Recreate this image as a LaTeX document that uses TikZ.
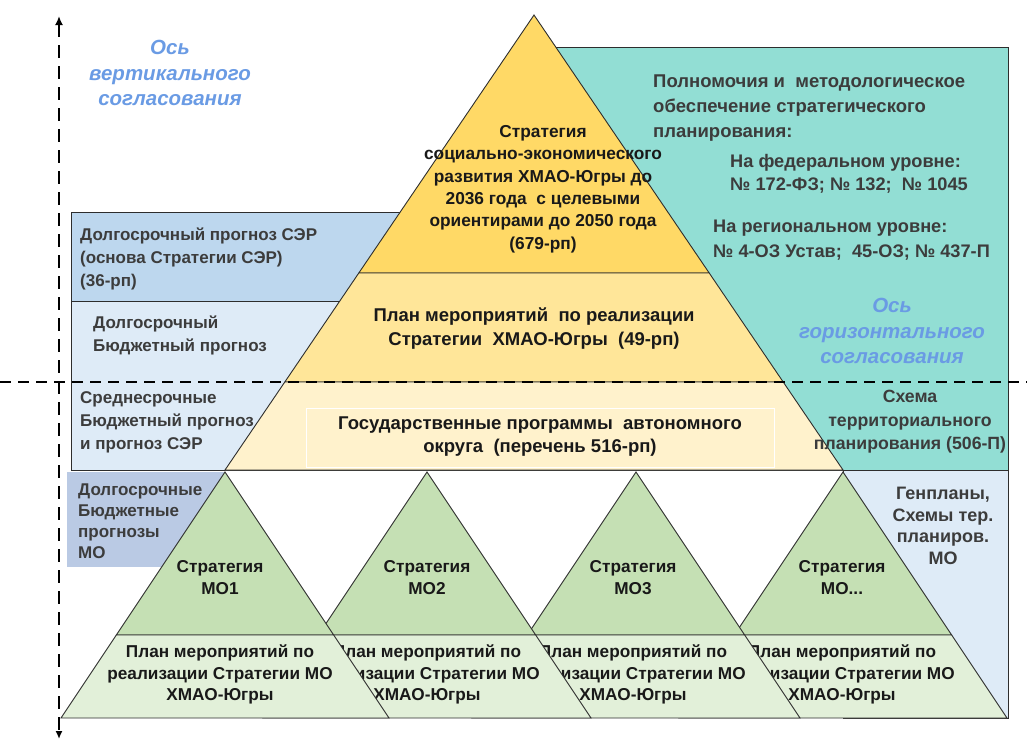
\documentclass[tikz,border=0pt]{standalone}
\usepackage{fontspec}
\setmainfont{Liberation Sans}
\usetikzlibrary{arrows.meta}
\definecolor{tgold}{HTML}{FFD966}
\definecolor{tmid}{HTML}{FFE699}
\definecolor{tpale}{HTML}{FFF2CC}
\definecolor{tealbox}{RGB}{146,222,212}
\definecolor{blueA}{HTML}{BDD7EE}
\definecolor{blueB}{HTML}{DEEBF7}
\definecolor{blueC}{RGB}{186,202,228}
\definecolor{gdark}{HTML}{C5E0B4}
\definecolor{glight}{HTML}{E2F0D9}
\definecolor{axisblue}{RGB}{106,155,228}
\definecolor{edgecol}{RGB}{45,45,45}
\definecolor{darktxt}{RGB}{25,25,25}
\definecolor{graytxt}{RGB}{60,60,60}
\begin{document}
\begin{tikzpicture}[x=1pt,y=-1pt,
  outl/.style={draw=edgecol,line width=0.9pt,line join=miter},
  boxtxt/.style={font=\fontsize{17}{23}\selectfont\bfseries,inner sep=0pt,text=graytxt,align=left,anchor=west},
  ctrtxt/.style={font=\fontsize{17}{23}\selectfont\bfseries,inner sep=0pt,text=graytxt,align=center},
  pyrtxt/.style={font=\fontsize{17.3}{22.4}\selectfont\bfseries,inner sep=0pt,text=darktxt,align=center},
  bigtxt/.style={font=\fontsize{18.5}{23.5}\selectfont\bfseries,inner sep=0pt,text=darktxt,align=center},
  axistxt/.style={font=\fontsize{20.5}{25.5}\selectfont\bfseries\itshape,inner sep=0pt,text=axisblue,align=center},
  gtxt/.style={font=\fontsize{17.2}{21.5}\selectfont\bfseries,inner sep=0pt,text=darktxt,align=center},
  axisline/.style={line width=2.6pt,dash pattern=on 13pt off 8pt},
  hline/.style={line width=2.4pt,dash pattern=on 11pt off 7pt}
]
\useasboundingbox (0,0) rectangle (1027,740);

% left boxes
\path[outl,fill=blueA] (71,212) rectangle (534,301);
\path[outl,fill=blueB] (71,301) rectangle (534,470);
\node[boxtxt] (lb1) at (80,258.5) {Долгосрочный прогноз СЭР\\(основа Стратегии СЭР)\\(36-рп)};
\node[boxtxt] (lb2) at (93,335) {Долгосрочный\\Бюджетный прогноз};
\node[boxtxt] (lb3) at (80,422) {Среднесрочные\\Бюджетный прогноз\\и прогноз СЭР};

% right boxes
\path[outl,fill=tealbox] (534,47) rectangle (1008,470);
\path[outl,fill=blueB] (843,470) rectangle (1008,718);
\path[fill=blueC] (67,472) rectangle (225,567);
\node[boxtxt,font=\fontsize{17}{21}\selectfont\bfseries] (lb4) at (78,521) {Долгосрочные\\Бюджетные\\прогнозы\\МО};

% main pyramid
\path[outl,fill=tgold] (534,15) -- (709.2,273) -- (358.8,273) -- cycle;
\path[outl,fill=tmid] (358.8,273) -- (709.2,273) -- (783.2,382) -- (284.8,382) -- cycle;
\path[outl,fill=tpale] (284.8,382) -- (783.2,382) -- (843,470) -- (225,470) -- cycle;
\path[draw=white,line width=1pt] (306,408) rectangle (774,467);

\node[pyrtxt] (strat) at (543,189) {Стратегия\\социально-экономического\\развития ХМАО-Югры до\\2036 года \ с целевыми\\ориентирами до 2050 года\\(679-рп)};
\node[bigtxt] (plan) at (534,328.5) {План мероприятий \ по реализации\\Стратегии \ ХМАО-Югры \ (49-рп)};
\node[bigtxt] (gos) at (540,436.5) {Государственные программы \ автономного\\округа \ (перечень 516-рп)};

% right texts
\node[boxtxt,font=\fontsize{18.5}{25}\selectfont\bfseries] (polnom) at (653,108) {Полномочия и \ методологическое\\обеспечение стратегического\\планирования:};
\node[boxtxt,font=\fontsize{18.2}{22.5}\selectfont\bfseries] (fed) at (730,174) {На федеральном уровне:\\№ 172-ФЗ; № 132; \ № 1045};
\node[boxtxt,font=\fontsize{18.2}{25}\selectfont\bfseries] (reg) at (713,240.5) {На региональном уровне:\\№ 4-ОЗ Устав; \ 45-ОЗ; № 437-П};
\node[ctrtxt,font=\fontsize{17.7}{23.5}\selectfont\bfseries] (schema) at (910,422) {Схема\\территориального\\планирования (506-П)};

% municipal triangles (drawn right to left)
\foreach \cx/\tx/\nm/\lab in {843/842/m4/{МО...},636/633/m3/{МО3},427/427/m2/{МО2},225/220/m1/{МО1}}{
  \path[outl,fill=gdark] (\cx,472) -- ({\cx+108.7},635) -- ({\cx-108.7},635) -- cycle;
  \path[outl,fill=glight] ({\cx-108.7},635) -- ({\cx+108.7},635) -- ({\cx+164},718) -- ({\cx-164},718) -- cycle;
  \node[gtxt] (\nm s) at (\tx,577.5) {Стратегия\\\lab};
  \node[gtxt] (\nm p) at (\tx,674.5) {План мероприятий по\\реализации Стратегии МО\\ХМАО-Югры};
}

\node[ctrtxt,font=\fontsize{18}{21.7}\selectfont\bfseries] (genpl) at (943,526) {Генпланы,\\Схемы тер.\\планиров.\\МО};

% axes
\coordinate (vtop) at (59,16);
\coordinate (vbot) at (59,739);
\coordinate (hl) at (0,382);
\coordinate (hr) at (1027,382);
\draw[axisline,{Latex[length=9pt,width=8pt]}-{Latex[length=8pt,width=7pt]}] (vtop) -- (vbot);
\draw[hline] (hl) -- (hr);

\node[axistxt] (vax) at (170,73) {Ось\\вертикального\\согласования};
\node[axistxt] (hax) at (892,331) {Ось\\горизонтального\\согласования};
\end{tikzpicture}
\end{document}
